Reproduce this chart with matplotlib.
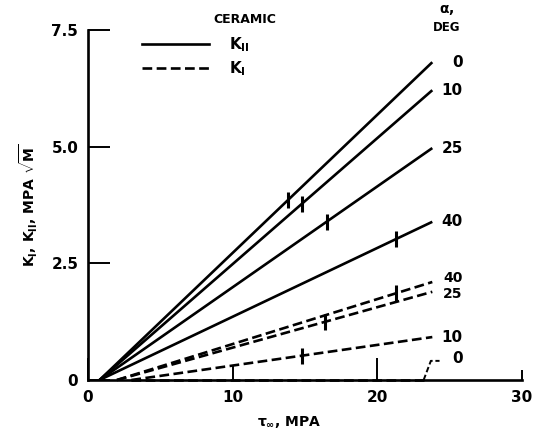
import numpy as np
import matplotlib
matplotlib.use("Agg")
import matplotlib.pyplot as plt
from matplotlib.lines import Line2D

plt.rcParams['font.family'] = ['DejaVu Sans']
plt.rcParams['font.weight'] = 'bold'
plt.rcParams['axes.labelweight'] = 'bold'
plt.rcParams['mathtext.fontset'] = 'custom'
plt.rcParams['mathtext.rm'] = 'DejaVu Sans:bold'
plt.rcParams['mathtext.it'] = 'DejaVu Sans:bold'
plt.rcParams['mathtext.bf'] = 'DejaVu Sans:bold'
plt.rcParams['lines.scale_dashes'] = False

# crack angle, deg
alpha = [0, 10, 25, 40]

# K_II (solid) lines: start / end tau and end K
k2_x0 = [0.8, 0.8, 0.8, 0.8]
k2_x1 = [23.8, 23.8, 23.8, 23.8]
k2_y1 = [6.81, 6.21, 4.97, 3.39]
k2_mark = [13.8, 14.8, 16.5, 21.3]

# K_I (dashed) lines
k1_alpha = [40, 25, 10, 0]
k1_x0 = [2.0, 2.0, 3.0, 3.0]
k1_x1 = [23.8, 23.8, 23.8, 23.2]
k1_y1 = [2.10, 1.89, 0.92, 0.0]
k1_mark = [21.3, 16.4, 14.8, None]

# leader for the alpha=0 K_I line (lies on the axis)
lead_x = [23.2, 23.7, 24.3]
lead_y = [0.0, 0.41, 0.41]

xticks = [0, 10, 20, 30]
yticks = [0, 2.5, 5.0, 7.5]
ytick_labels = ['0', '2.5', '5.0', '7.5']

LW = 1.9
DASH = (7, 3.2)

fig = plt.figure(figsize=(5.36, 4.32), dpi=100)
ax = fig.add_axes([88 / 536, 1 - 380 / 432, 434 / 536, 350 / 432])

for a, x0, x1, y1, xm in zip(alpha, k2_x0, k2_x1, k2_y1, k2_mark):
    xs = [x0, x1]
    ys = [0.0, y1]
    ax.plot(xs, ys, color='black', lw=LW, solid_capstyle='butt')
    ax.plot([xm], [np.interp(xm, xs, ys)], marker='|', ms=12, mew=2.2, color='black')
    ax.text(25.9, y1, str(a), ha='right', va='center', fontsize=11)

for a, x0, x1, y1, xm in zip(k1_alpha, k1_x0, k1_x1, k1_y1, k1_mark):
    xs = [x0, x1]
    ys = [0.0, y1]
    ax.plot(xs, ys, color='black', lw=LW, linestyle=(0, DASH), clip_on=False)
    if xm is not None:
        ax.plot([xm], [np.interp(xm, xs, ys)], marker='|', ms=12, mew=2.2, color='black')
    if a != 0:
        ax.text(25.9, y1 + (0.08 if a == 40 else -0.05 if a == 25 else 0), str(a),
                ha='right', va='center', fontsize=11 if a == 10 else 10)

ax.plot(lead_x, lead_y, color='black', lw=1.4, linestyle=(0, (4, 2)), clip_on=False)
ax.text(25.9, lead_y[-1] + 0.05, '0', ha='right', va='center', fontsize=11)

ax.text(24.8, 7.93, r'$\alpha$,', ha='center', va='center', fontsize=10)
ax.text(24.8, 7.55, 'DEG', ha='center', va='center', fontsize=8.5)
ax.text(8.7, 7.715, 'CERAMIC', ha='left', va='center', fontsize=9)

handles = [Line2D([], [], color='black', lw=LW),
           Line2D([], [], color='black', lw=LW, linestyle=(0, DASH))]
ax.legend(handles, [r'K$_{\mathrm{II}}$', r'K$_{\mathrm{I}}$'], loc='upper left',
          bbox_to_anchor=(0.124, 0.985), frameon=False, fontsize=11,
          handlelength=4.4, handletextpad=1.3, labelspacing=0.35,
          borderpad=0, borderaxespad=0)

ax.set_xlim(0, 30)
ax.set_ylim(0, 7.5)
ax.set_xticks(xticks)
ax.set_yticks(yticks)
ax.set_yticklabels(ytick_labels)
ax.tick_params(direction='in', length=16, width=1.4, labelsize=11, pad=7)
xt = ax.xaxis.get_major_ticks()
xt[1].tick1line.set_markersize(10)
xt[-1].tick1line.set_markersize(7)
for s in ['top', 'right']:
    ax.spines[s].set_visible(False)
for s in ['left', 'bottom']:
    ax.spines[s].set_linewidth(1.9)

ax.set_xlabel(r'$\tau_{\infty}$, MPA', fontsize=10, va='center')
ax.xaxis.set_label_coords(0.463, -0.12)
ax.set_ylabel(r'K$_{\mathrm{I}}$, K$_{\mathrm{II}}$, MPA $\sqrt{\mathrm{M}}$', fontsize=10,
              va='center')
ax.yaxis.set_label_coords(-0.137, 0.5)

fig.savefig('out.png', dpi=100)
